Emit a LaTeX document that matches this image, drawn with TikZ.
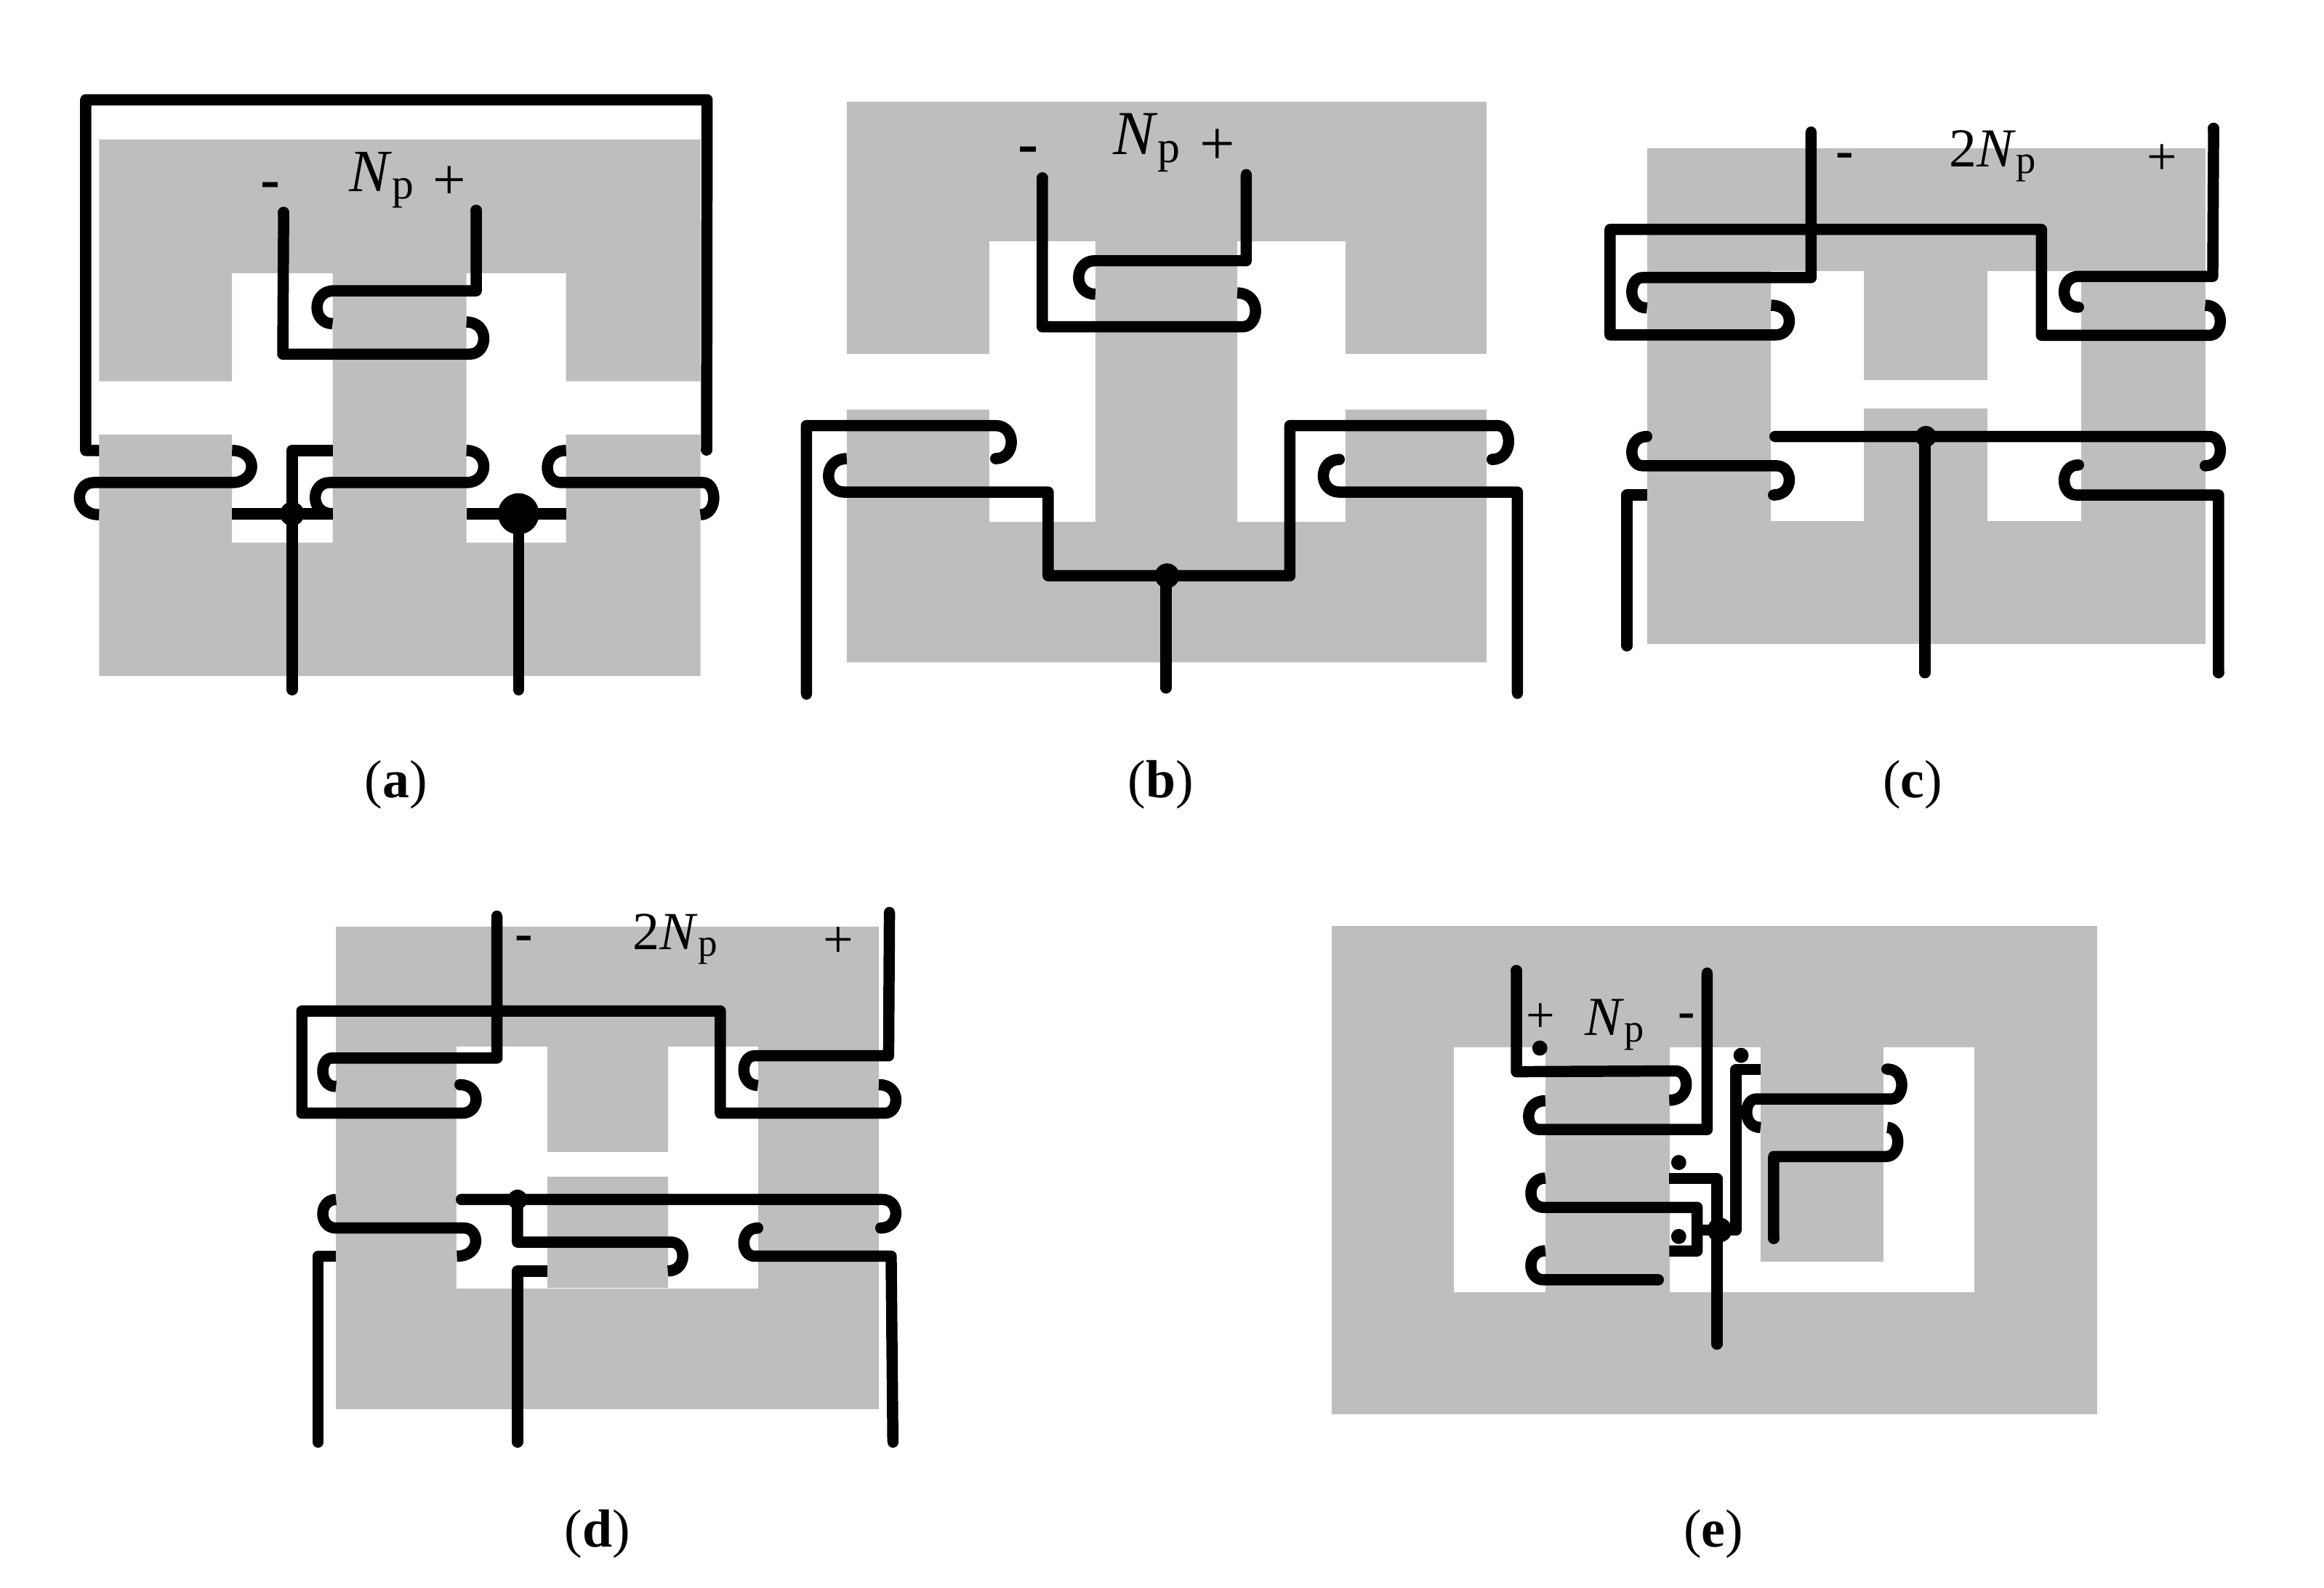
\documentclass[tikz,border=0pt]{standalone}
\usepackage{fontspec}
\setmainfont{Liberation Serif}
\definecolor{core}{HTML}{BEBEBE}
\tikzset{
  wire/.style={line width=4.4pt,line cap=butt,line join=round,black},
  lbl/.style={inner sep=0pt,outer sep=0pt,text=black},
  hy/.style={lbl,yshift=-0.09cm},
  pz/.style={lbl,yshift=-0.05cm},
  capt/.style={inner sep=0pt,outer sep=0pt,font=\fontsize{21}{25}\selectfont}
}
\newcommand{\hk}[2]{.. controls +({1.333*#1},0) and +({1.333*#2},0) ..}
\newcommand{\rc}[1]{\draw[wire,line cap=round] (#1) -- ++(0,0.01);}
\newcommand{\Np}[2]{\fontsize{#1}{#1}\selectfont #2\textit{N}\raisebox{-0.12em}{\fontsize{\fpeval{0.72*#1}}{#1}\selectfont p}}
\newcommand{\mn}[1]{\fontsize{#1}{#1}\selectfont\bfseries -}
\newcommand{\pl}[1]{\fontsize{#1}{#1}\selectfont +}
\begin{document}
\begin{tikzpicture}
\useasboundingbox (0,0) rectangle (31.97,-21.85);
% ---------------- (a)
\begin{scope}[shift={(0.80,-1.00)},x=0.006124cm,y=-0.00574cm]
\fill[core] (92,160)--(1444,160)--(1444,740)--(1142,740)--(1142,481)--(918,481)--(918,1127)--(1142,1127)--(1142,868)--(1444,868)--(1444,1447)--(92,1447)--(92,868)--(391,868)--(391,1127)--(617,1127)--(617,481)--(391,481)--(391,740)--(92,740)--cycle;
\draw[wire] (92,906)--(62,906)--(62,65)--(1459,65)--(1458,905); \rc{1458,905}
\draw[wire] (391,906) \hk{44}{44} (391,983)--(80,983) \hk{-32}{-44} (92,1060);
\draw[wire] (391,1058)--(617,1058);
\draw[wire] (617,906)--(526,906)--(526,1480); \rc{526,1480}
\draw[wire] (918,906) \hk{39}{39} (918,983)--(610,983) \hk{-32}{-39} (617,1058);
\draw[wire] (1142,906) \hk{-42}{-30} (1130,983)--(1450,983) \hk{24}{30} (1444,1060);
\draw[wire] (918,1058)--(1142,1058);
\draw[wire] (1035,1058)--(1035,1480); \rc{1035,1480}
\draw[wire] (507,335)--(505,675)--(925,675) \hk{32}{39} (918,598); \rc{507,335}
\draw[wire] (940,330)--(940,523)--(620,523) \hk{-38}{-35} (617,602); \rc{940,330}
\fill (526,1058) circle[radius=0.166cm];
\fill (1035,1058) circle[radius=0.283cm];
\node[hy] (am) at (477,268) {\mn{23}};
\node[lbl,anchor=base west] (an) at (655,285) {\Np{23.5}{}};
\node[pz] (ap) at (880,255) {\pl{23}};
\end{scope}
% ---------------- (b)
\begin{scope}[shift={(10.60,-1.10)},x=0.006761cm,y=-0.005612cm]
\fill[core] (155,53)--(1457,53)--(1457,671)--(1170,671)--(1170,395)--(950,395)--(950,1083)--(1170,1083)--(1170,808)--(1457,808)--(1457,1427)--(155,1427)--(155,808)--(445,808)--(445,1083)--(661,1083)--(661,395)--(445,395)--(445,671)--(155,671)--cycle;
\draw[wire] (553,240)--(553,605)--(960,605) \hk{27}{37} (950,522); \rc{553,240}
\draw[wire] (968,232)--(968,443)--(660,443) \hk{-33}{-34} (661,525); \rc{968,232}
\draw[wire] (73,1505)--(73,847)--(458,847) \hk{32}{32} (458,928); \rc{73,1505} \rc{458,928}
\draw[wire] (155,928) \hk{-37}{-32} (150,1010)--(565,1010)--(565,1215)--(1057,1215)--(1057,847)--(1480,847) \hk{22}{34} (1468,930); \rc{1468,930}
\draw[wire] (1158,930) \hk{-33}{-33} (1158,1010)--(1520,1010)--(1520,1503); \rc{1158,930} \rc{1520,1503}
\draw[wire] (805,1215)--(805,1490); \rc{805,1490}
\fill (807,1215) circle[radius=0.17cm];
\node[hy] (bm) at (525,168) {\mn{24}};
\node[lbl,anchor=base west] (bn) at (697,183) {\Np{24.5}{}};
\node[pz] (bp) at (910,155) {\pl{24.5}};
\end{scope}
% ---------------- (c)
\begin{scope}[shift={(21.80,-1.50)},x=0.006124cm,y=-0.005294cm]
\fill[core] (140,102) rectangle (1395,1390);
\fill[white] (419,422) rectangle (1116,1071);
\fill[core] (627,422) rectangle (906,705);
\fill[core] (627,778) rectangle (906,1071);
\draw[wire] (509,60)--(509,438)--(130,438) \hk{-24}{-34} (140,517); \rc{509,60}
\draw[wire] (1414,50)--(1412,435)--(1110,435) \hk{-32}{-32} (1110,515); \rc{1414,50} \rc{1110,515}
\draw[wire] (419,510) \hk{41}{30} (430,587)--(57,587)--(57,313)--(1027,313)--(1027,588)--(1405,588) \hk{24}{34} (1395,510);
\draw[wire] (428,851)--(1405,851) \hk{24}{34} (1395,927); \rc{428,851} \rc{1395,927}
\draw[wire] (140,851) \hk{-34}{-24} (130,927)--(430,927) \hk{30}{35} (425,1003); \rc{140,851} \rc{425,1003}
\draw[wire] (140,1003)--(95,1003)--(95,1395); \rc{95,1395}
\draw[wire] (1110,925) \hk{-32}{-27} (1105,1003)--(1425,1003)--(1425,1465); \rc{1110,925} \rc{1425,1465}
\draw[wire] (765,851)--(765,1465); \rc{765,1465}
\fill (767,851) circle[radius=0.145cm];
\node[hy] (cm) at (585,118) {\mn{21}};
\node[lbl,anchor=base west] (cn) at (820,150) {\Np{21.5}{2}};
\node[pz] (cp) at (1298,122) {\pl{21}};
\end{scope}
% ---------------- (d)
\begin{scope}[shift={(3.80,-12.30)},x=0.005869cm,y=-0.005102cm]
\fill[core] (140,88) rectangle (1411,1391);
\fill[white] (423,412) rectangle (1128,1066);
\fill[core] (635,412) rectangle (917,697);
\fill[core] (635,764) rectangle (917,1063);
\draw[wire] (517,60)--(517,443)--(130,443) \hk{-21}{-31} (140,520); \rc{517,60}
\draw[wire] (1436,50)--(1434,437)--(1120,437) \hk{-25}{-33} (1128,517); \rc{1436,50}
\draw[wire] (430,515) \hk{38}{33} (435,592)--(60,592)--(60,316)--(1040,316)--(1040,592)--(1425,592) \hk{26}{40} (1411,515); \rc{430,515}
\draw[wire] (433,825)--(1420,825) \hk{31}{36} (1415,902); \rc{433,825} \rc{1415,902}
\draw[wire] (565,825)--(565,940)--(925,940) \hk{27}{35} (917,1018);
\draw[wire] (635,1018)--(565,1018)--(565,1480); \rc{565,1480}
\draw[wire] (140,825) \hk{-31}{-31} (140,902)--(440,902) \hk{27}{44} (423,978);
\draw[wire] (140,978)--(98,978)--(98,1480); \rc{98,1480}
\draw[wire] (1128,902) \hk{-33}{-25} (1120,978)--(1440,978)--(1444,1480); \rc{1128,902} \rc{1444,1480}
\fill (565,825) circle[radius=0.136cm];
\node[hy] (dm) at (580,116) {\mn{21}};
\node[lbl,anchor=base west] (dn) at (835,150) {\Np{21}{2}};
\node[pz] (dp) at (1316,120) {\pl{21}};
\end{scope}
% ---------------- (e)
\begin{scope}[shift={(18.20,-12.60)},x=0.007018cm,y=-0.004592cm]
\fill[core] (17,30) rectangle (1517,1493);
\fill[white] (257,394) rectangle (1277,1128);
\fill[core] (436,394) rectangle (679,1128);
\fill[core] (858,394) rectangle (1099,1037);
\end{scope}
\begin{scope}[shift={(20.60,-13.30)},x=0.003827cm,y=-0.003571cm]
\draw[wire] (68,15)--(68,405)--(640,402) \hk{38}{61} (617,515); \rc{68,15}
\draw[wire] (753,25)--(753,628)--(150,628) \hk{-38}{-60} (172,517); \rc{753,25}
\draw[wire] (945,397)--(857,397)--(857,1015); \rc{857,1015}
\draw[wire] (945,620) \hk{-50}{-35} (930,510)--(1415,510) \hk{37}{52} (1400,395); \rc{1400,395}
\draw[wire] (1400,620) \hk{38}{43} (1395,732)--(992,732)--(992,1048); \rc{992,1048}
\draw[wire] (617,817)--(788,817)--(788,1000);
\draw[wire] (172,815) \hk{-52}{-45} (165,928)--(717,928)--(717,1096)--(617,1096);
\draw[wire] (172,1095) \hk{-52}{-45} (165,1207)--(578,1207); \rc{578,1207}
\draw[wire] (717,1015)--(855,1015);
\draw[wire] (788,1050)--(788,1455); \rc{788,1455}
\fill (798,1015) circle[radius=0.17cm];
\fill (152,314) circle[radius=0.104cm];
\fill (875,342) circle[radius=0.104cm];
\fill (651,755) circle[radius=0.104cm];
\fill (651,1040) circle[radius=0.104cm];
\node[hy] (em) at (680,183) {\mn{20}};
\node[lbl,anchor=base west] (en) at (315,265) {\Np{21.5}{}};
\node[pz] (ep) at (155,183) {\pl{20}};
\end{scope}
% ---------------- captions
\node[capt] (capa) at (5.45,-10.80) {(\textbf{a})};
\node[capt] (capb) at (15.97,-10.80) {(\textbf{b})};
\node[capt] (capc) at (26.31,-10.80) {(\textbf{c})};
\node[capt] (capd) at (8.22,-21.11) {(\textbf{d})};
\node[capt] (cape) at (23.57,-21.11) {(\textbf{e})};
\end{tikzpicture}
\end{document}
